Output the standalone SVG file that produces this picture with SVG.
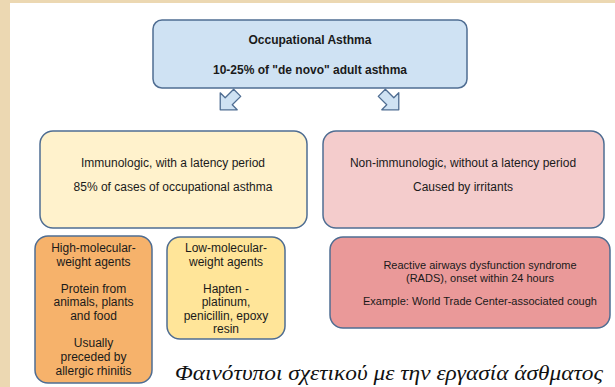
<svg xmlns="http://www.w3.org/2000/svg" width="615" height="387" viewBox="0 0 615 387">
<style>
.box{stroke:#4f6d92;stroke-width:1.5}
.t{font-family:"Liberation Sans",Arial,sans-serif;font-size:11px;fill:#1a1a1a;text-anchor:middle}
.m{font-size:12px}
.b{font-weight:bold}
.s{font-size:12px}
.arrow{fill:#cfe2f3;stroke:#4f6d92;stroke-width:1.3;stroke-linejoin:round}
.cap{font-family:"Liberation Serif","Times New Roman",serif;font-style:italic;font-size:22px;fill:#111}
</style>
<rect x="0" y="0" width="615" height="387" fill="#ffffff"/>
<rect x="0" y="0" width="615" height="3" fill="#ecd8b2"/>
<rect x="0" y="0" width="10" height="387" fill="#ecd8b2"/>
<g id="top">
<rect class="box" x="153" y="20" width="314" height="68" rx="9" fill="#cfe2f3"/>
<text class="t m b" x="310" y="44">Occupational Asthma</text>
<text class="t m b" x="310" y="74">10-25% of "de novo" adult asthma</text>
</g>
<g id="connectors">
<polygon class="arrow" transform="translate(228,102) rotate(45)" points="-5,-13 5,-13 5,-1 12,-1 0,11 -12,-1 -5,-1"/>
<polygon class="arrow" transform="translate(391,102) rotate(-45)" points="-5,-13 5,-13 5,-1 12,-1 0,11 -12,-1 -5,-1"/>
</g>
<g id="immuno">
<rect class="box" x="40" y="131" width="267" height="97" rx="13" fill="#fff2cc"/>
<text class="t m" x="173" y="167">Immunologic, with a latency period</text>
<text class="t m" x="173" y="191">85% of cases of occupational asthma</text>
</g>
<g id="nonimmuno">
<rect class="box" x="323" y="131" width="281" height="97" rx="13" fill="#f4cccc"/>
<text class="t m" x="463" y="167">Non-immunologic, without a latency period</text>
<text class="t m" x="463" y="191">Caused by irritants</text>
</g>
<g id="hmw">
<rect class="box" x="35" y="236" width="117" height="147" rx="13" fill="#f6b26b"/>
<text class="t s" x="93.5" y="252">High-molecular-</text>
<text class="t s" x="93.5" y="266">weight agents</text>
<text class="t s" x="93.5" y="293">Protein from</text>
<text class="t s" x="93.5" y="306">animals, plants</text>
<text class="t s" x="93.5" y="320">and food</text>
<text class="t s" x="93.5" y="347">Usually</text>
<text class="t s" x="93.5" y="361">preceded by</text>
<text class="t s" x="93.5" y="375">allergic rhinitis</text>
</g>
<g id="lmw">
<rect class="box" x="167" y="237" width="118" height="102" rx="13" fill="#ffe599"/>
<text class="t s" x="226" y="252">Low-molecular-</text>
<text class="t s" x="226" y="266">weight agents</text>
<text class="t s" x="226" y="293">Hapten -</text>
<text class="t s" x="226" y="306">platinum,</text>
<text class="t s" x="226" y="320">penicillin, epoxy</text>
<text class="t s" x="226" y="333">resin</text>
</g>
<g id="rads">
<rect class="box" x="330" y="237" width="280" height="91" rx="13" fill="#ea9999"/>
<text class="t" x="480" y="269">Reactive airways dysfunction syndrome</text>
<text class="t" x="480" y="282">(RADS), onset within 24 hours</text>
<text class="t" x="480" y="305">Example: World Trade Center-associated cough</text>
</g>
<text class="cap" x="175" y="380" textLength="428" lengthAdjust="spacingAndGlyphs">Φαινότυποι σχετικού με την εργασία άσθματος</text>
</svg>
